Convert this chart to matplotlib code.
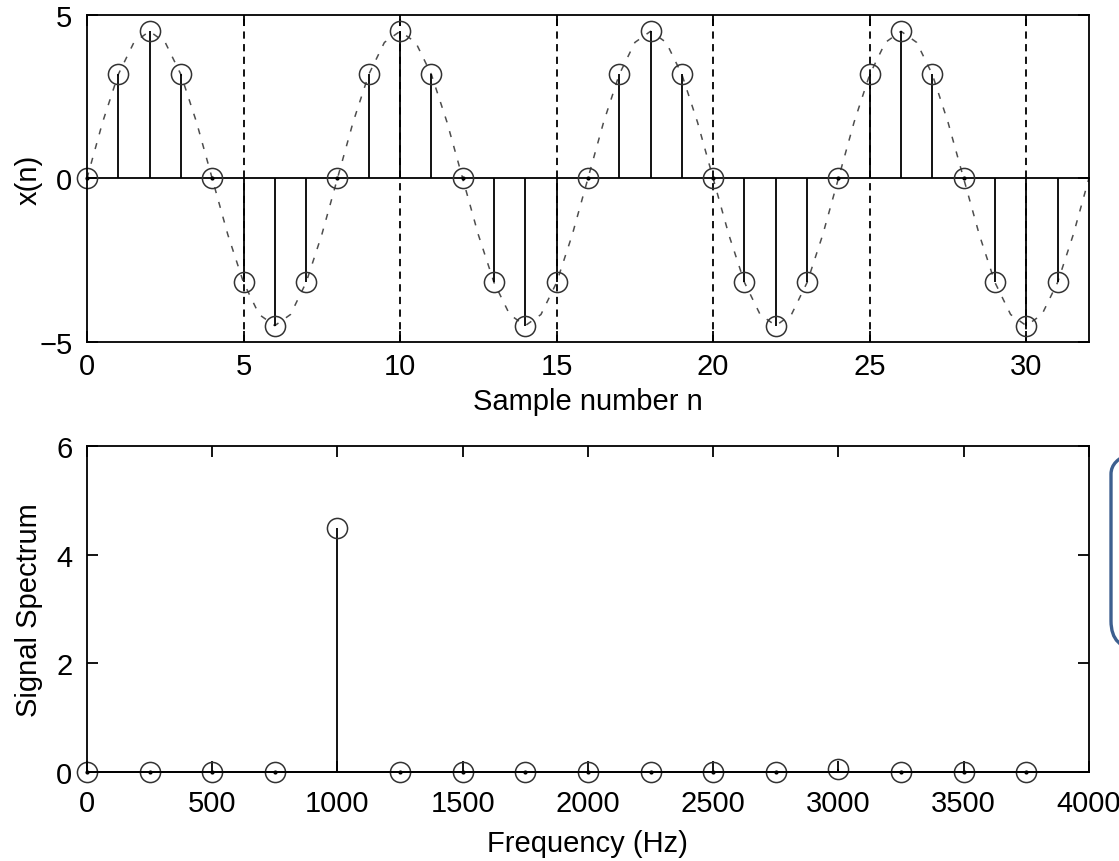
import numpy as np
import matplotlib
matplotlib.use("Agg")
import matplotlib.pyplot as plt
from matplotlib.patches import FancyBboxPatch
from matplotlib.transforms import IdentityTransform

plt.rcParams['font.family'] = ['Liberation Sans', 'DejaVu Sans']

# sampled signal x(n), n = 0..31
n = np.arange(32)
xn = [0, 3.18, 4.5, 3.18, 0, -3.18, -4.5, -3.18,
      0, 3.18, 4.5, 3.18, 0, -3.18, -4.5, -3.18,
      0, 3.18, 4.5, 3.18, 0, -3.18, -4.5, -3.18,
      0, 3.18, 4.5, 3.18, 0, -3.18, -4.5, -3.18]

# analog signal read at half-sample spacing (one period), repeated
analog_period = [0, 1.72, 3.18, 4.16, 4.5, 4.16, 3.18, 1.72,
                 0, -1.72, -3.18, -4.16, -4.5, -4.16, -3.18, -1.72]
t_analog = np.arange(0, 32.01, 0.5)
x_analog = np.append(np.tile(analog_period, 4), 0)

grid_n = [5, 10, 15, 20, 25, 30]

# spectrum
freqs = [0, 250, 500, 750, 1000, 1250, 1500, 1750, 2000, 2250, 2500,
         2750, 3000, 3250, 3500, 3750]
mags = [0, 0, 0, 0, 4.5, 0, 0, 0, 0, 0, 0, 0, 0.06, 0, 0, 0]

fig = plt.figure(figsize=(11.19, 8.62), dpi=100)
ax1 = fig.add_axes([0.0777, 0.6021, 0.8954, 0.3794])
ax2 = fig.add_axes([0.0777, 0.1032, 0.8954, 0.3782])

fs = 21
mk = dict(ms=14.5, mfc='none', mec='0.2', mew=1.1)

# top plot
ax1.plot(t_analog, x_analog, color='0.3', lw=1.1, dashes=(4, 6))
for g in grid_n:
    ax1.axvline(g, color='k', lw=1.3, dashes=(4, 3))
ax1.axhline(0, color='k', lw=1.3)
ax1.vlines(n, 0, xn, color='k', lw=1.3)
ax1.plot(n, xn, 'o', **mk)
zero_n = [i for i, v in zip(n, xn) if v == 0]
ax1.plot(zero_n, [0] * len(zero_n), '.', color='k', ms=4)
ax1.set_xlim(0, 32)
ax1.set_ylim(-5, 5)
ax1.set_xticks([0, 5, 10, 15, 20, 25, 30])
ax1.set_yticks([-5, 0, 5])
ax1.set_yticklabels(['\u22125', '0', '5'])
ax1.tick_params(axis='both', direction='in', length=8, width=1.3,
                labelsize=fs, top=True, right=True)
ax1.tick_params(axis='x', pad=7)
ax1.tick_params(axis='y', pad=10.5)
ax1.set_xlabel('Sample number n', fontsize=fs)
ax1.set_ylabel('x(n)', fontsize=fs)
ax1.xaxis.set_label_coords(0.5, -0.1376)
ax1.yaxis.set_label_coords(-0.0439, 0.5)

# bottom plot
ax2.axhline(0, color='k', lw=1.3)
ax2.vlines(freqs, 0, mags, color='k', lw=1.3)
ax2.plot(freqs, mags, 'o', **mk)
zero_f = [f for f, m in zip(freqs, mags) if m == 0]
ax2.plot(zero_f, [0] * len(zero_f), '.', color='k', ms=4)
ax2.set_xlim(0, 4000)
ax2.set_ylim(0, 6)
ax2.set_xticks(np.arange(0, 4001, 500))
ax2.set_yticks([0, 2, 4, 6])
ax2.tick_params(axis='both', direction='in', length=8, width=1.3,
                labelsize=fs, top=True, right=True)
ax2.tick_params(axis='x', pad=12)
ax2.tick_params(axis='y', pad=10.5)
ax2.set_xlabel('Frequency (Hz)', fontsize=fs)
ax2.set_ylabel('Signal Spectrum', fontsize=fs)
ax2.xaxis.set_label_coords(0.5, -0.1748)
ax2.yaxis.set_label_coords(-0.0439, 0.5)

for ax in (ax1, ax2):
    for s in ax.spines.values():
        s.set_linewidth(1.3)
    for p in ax.lines:
        p.set_clip_on(False)

# partial rounded box at the right edge
box = FancyBboxPatch((1111, 212), 110, 203,
                     boxstyle="round,pad=0,rounding_size=28",
                     transform=IdentityTransform(), fill=False,
                     edgecolor='#3d5f8f', lw=2.4)
fig.patches.append(box)

fig.savefig('out.png', dpi=100)
